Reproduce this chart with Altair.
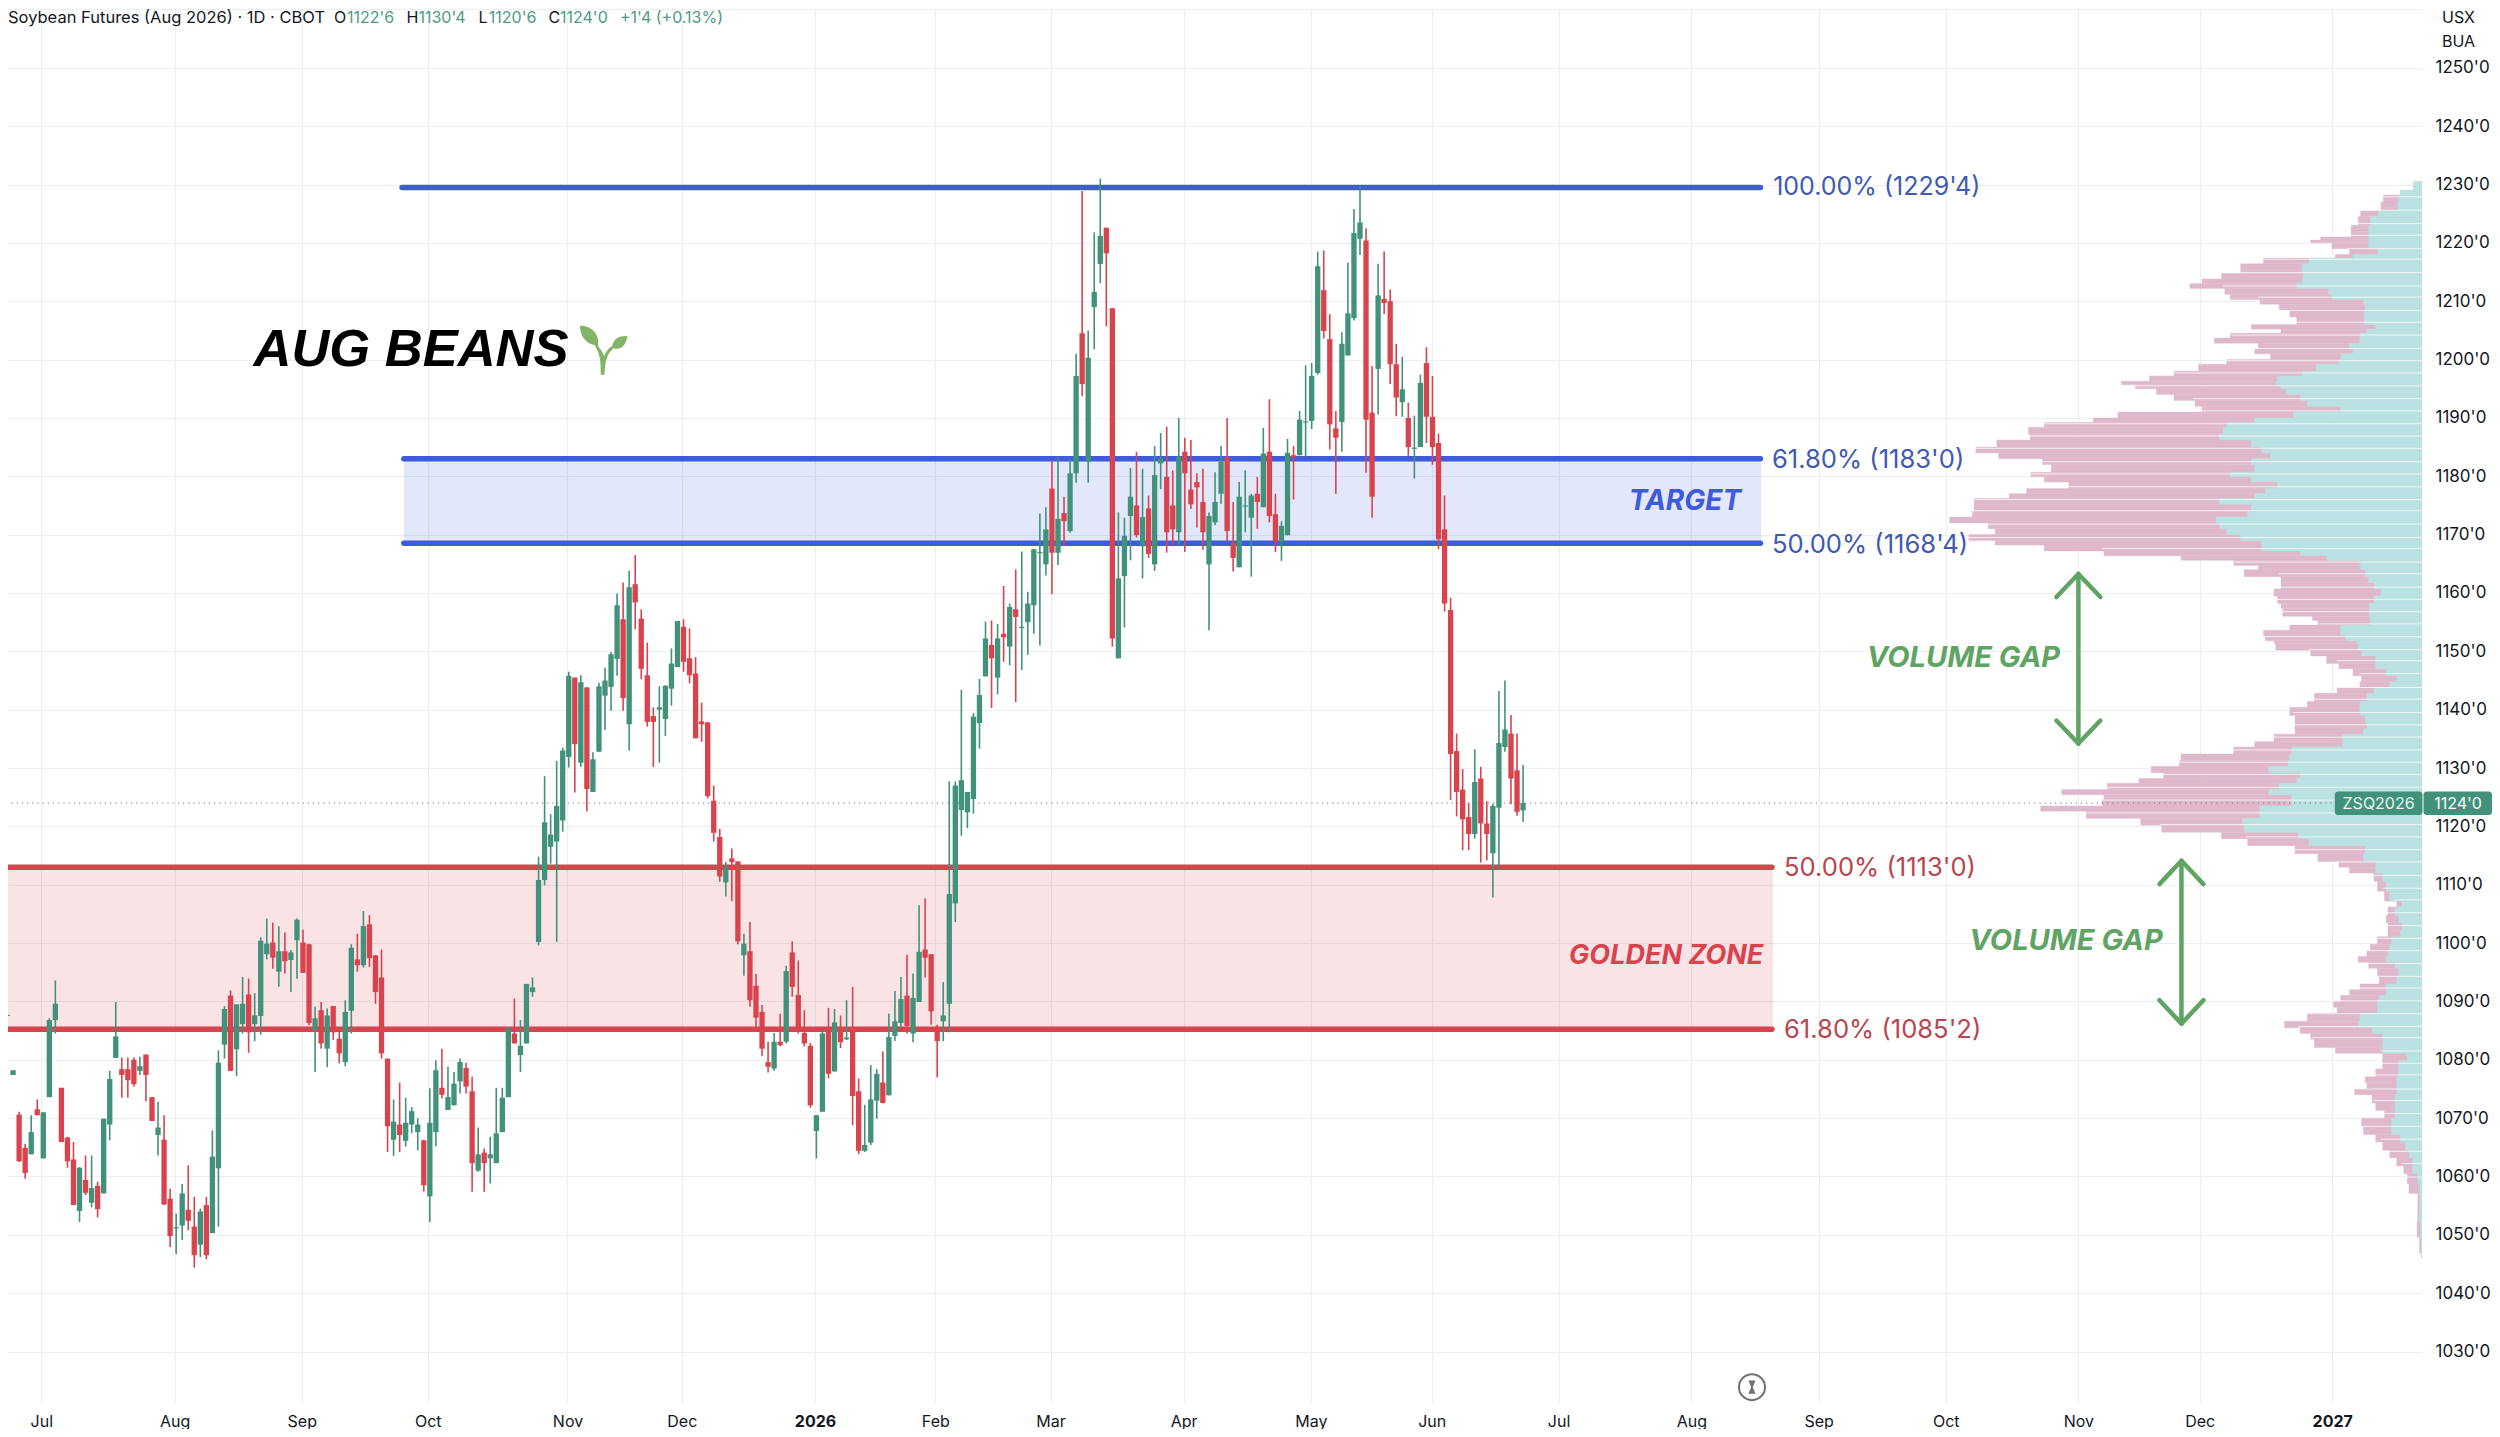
import altair as alt
import pandas as pd

# ---------- daily OHLC (cents/bushel) ----------
opens = [1106.5,1087.5,1077.4,1070.6,1064.9,1063.8,1071.5,1063.1,1073.6,1086.8,
1075.2,1066.7,1062.9,1054.1,1059.4,1055.5,1058.4,1057.1,1068.9,1080.3,
1078.4,1078.4,1080,1078.1,1080.9,1073.6,1067.1,1066.3,1056.2,1051.1,
1051.6,1054.3,1051.4,1048.3,1055.1,1050.3,1061.4,1082.6,1091,1081.8,
1086.1,1091.2,1086.1,1087.5,1098.1,1100.1,1095.1,1098.6,1097.1,1100.5,
1100.1,1099.8,1085.1,1088.5,1081.9,1089.2,1083.6,1079.6,1088.4,1097.2,
1096.2,1103.2,1097.9,1094.1,1080.2,1066.3,1068.9,1066.1,1068.9,1067.6,
1066.2,1056.6,1067.6,1075.2,1071.4,1072.2,1076.3,1078.6,1074.6,1061,
1064.1,1063.1,1062.3,1067.6,1073.6,1084.5,1080.8,1082.8,1091.6,1100.2,
1110.8,1116.5,1117.4,1121,1131.9,1145.5,1130.9,1143.8,1125.9,1132.8,
1142.4,1143.9,1148.7,1155.5,1137.5,1161.5,1155.6,1145.9,1138.9,1140,
1138.4,1143.6,1147.3,1154.2,1148.8,1146.2,1138,1137.8,1124.4,1118.2,
1110.4,1114.5,1114,1097.9,1098.6,1092.7,1088.2,1079.6,1078.5,1083.1,
1083.1,1098.4,1091.1,1084.6,1082.4,1067.8,1071.1,1084.9,1078,1085.6,
1083.5,1085,1074.6,1064.4,1065.8,1073,1076.1,1073.9,1084.1,1086.3,
1091,1084.5,1089.9,1098.9,1098.1,1085.6,1086.6,1089.6,1106.8,1122.8,
1122.4,1124.7,1137.7,1145.7,1151.1,1145.5,1153,1150.8,1157.2,1154,
1155,1157.9,1166.8,1164.9,1177.9,1166.9,1173.7,1170.6,1180.5,1204.5,
1182.5,1209,1216.4,1222.6,1208.8,1148.8,1162.9,1173.2,1175,1168,
1174.5,1164.9,1182.2,1179.9,1175,1170.4,1184.2,1177.7,1179,1175.6,
1164.9,1172.1,1177,1183.3,1168.6,1164.4,1174.8,1172.9,1177,1174.7,
1184.2,1173.5,1168.8,1169.9,1183.6,1183.6,1189.2,1189.5,1197.7,1211.9,
1203.5,1188.2,1189.3,1200.7,1207.1,1220.7,1220.4,1190.9,1198.4,1210.4,
1210,1199.2,1192.7,1190,1184.7,1185,1199.4,1190.2,1185.7,1170.9,
1157.1,1132.9,1126.3,1121.6,1118.7,1128.2,1120.5,1115.4,1123.2,1133.6,
1135.9,1129.6,1122.75]
highs = [1107,1087.75,1078.2,1071.1,1065.6,1070.5,1073.2,1071,1087.1,1093.6,
1075.2,1066.8,1065.9,1061.6,1063.6,1063.6,1059.1,1069.9,1078.1,1089.9,
1080.4,1080.4,1080.4,1080.5,1080.9,1073.6,1072.8,1070.5,1057.9,1053.6,
1058.7,1061.9,1056.5,1054.5,1056.5,1067.9,1081.6,1089.2,1091.9,1089.5,
1094.2,1093.9,1091.4,1101,1104.2,1103.5,1102.9,1101.8,1098.8,1104.2,
1102.3,1099.9,1089.1,1089.9,1088.8,1089.2,1085.6,1090.2,1099.8,1101.6,
1105.5,1104.8,1097.9,1098.9,1080.2,1073.2,1076.1,1073.5,1071.9,1070,
1066.3,1075.1,1079.9,1081.9,1078.8,1077.9,1080.2,1079.5,1077.1,1068.4,
1064.8,1066.8,1075.2,1075.2,1085.6,1090.5,1086.8,1093,1094.1,1114.8,
1128.6,1122.1,1131.2,1133.5,1146.5,1145.5,1145.9,1143.9,1132.7,1144.6,
1147.2,1149.9,1159.9,1161.8,1163.8,1166.5,1157.2,1151.5,1140.4,1144,
1144.2,1150.5,1155.2,1155.5,1153.9,1149,1141.2,1137.9,1127,1119.6,
1113.9,1116.2,1114,1101.6,1103.6,1094.7,1089.4,1083.1,1084.6,1087.9,
1096.1,1100.3,1097,1088.5,1082.9,1070.5,1085.1,1088.9,1088.7,1087.6,
1090.2,1092.5,1076.8,1072.3,1079.1,1078.4,1081.4,1087.9,1091.8,1094.2,
1098,1094.8,1106.5,1107.7,1098.1,1086,1093.3,1127.7,1127.7,1143.4,
1125.9,1139.4,1145.3,1155.1,1155.3,1154.7,1161.2,1158.2,1164,1167.1,
1160.2,1167.5,1173.6,1174.7,1182.7,1183.4,1176.5,1183,1201,1228.9,
1205,1221.8,1231,1222.6,1208.8,1173.8,1172.9,1181.4,1184.2,1181.3,
1176.7,1185.2,1187.4,1188.5,1181,1190,1186.6,1186.2,1180.5,1181.3,
1173.8,1180.7,1185.2,1190,1175.6,1179,1181,1177,1179.9,1188.3,
1193.2,1177,1172.3,1186.4,1185.2,1191.2,1199,1199.4,1218.5,1218.7,
1207.8,1191.2,1204.7,1216.6,1225.8,1229.5,1222.5,1198.9,1216.4,1218.5,
1212,1202.7,1200.5,1192.6,1190.4,1197.4,1202.1,1197.2,1187.3,1176.7,
1159.2,1135.9,1129.8,1124,1133.2,1130.2,1124.3,1123.9,1143.2,1145,
1139.1,1135.9,1130.5]
lows = [1099,1087.25,1077.4,1062.5,1059.6,1063.8,1070.5,1063.1,1073.6,1084.5,
1065.9,1061.5,1055.1,1052.2,1056.8,1054.7,1053,1057.1,1066.2,1080.3,
1073.5,1073.5,1075.4,1077.4,1072.9,1069.5,1063.6,1055.1,1047.9,1046.7,
1049.1,1050.8,1044.4,1046.2,1045.8,1050.3,1051.4,1080.2,1078.1,1077.2,
1084.5,1081.2,1083.2,1084.3,1097.2,1095.6,1092.5,1094.8,1091.6,1093.9,
1094.9,1085.9,1077.9,1081.9,1078.7,1083.4,1079.4,1078.9,1084.5,1095.1,
1095.8,1095.9,1089.6,1080.2,1064.2,1063.5,1064.2,1065.1,1067.4,1064.5,
1057.4,1052.2,1065.2,1073.4,1071.4,1072.2,1074.2,1074.2,1057.4,1060.8,
1057.4,1058.8,1062.3,1067.6,1073.6,1082.8,1077.9,1082.8,1090.8,1099.6,
1109.9,1113.6,1100.2,1119.1,1130.1,1125.8,1130.2,1122.6,1125.9,1132.8,
1136.5,1139.8,1145.8,1139.8,1133,1153.8,1145.2,1137.1,1130.2,1130.9,
1135.5,1140.7,1147.3,1146.5,1144.5,1135.1,1134.5,1124.8,1117.4,1110.5,
1108,1107.2,1099.8,1094.4,1089.1,1085.6,1080.6,1077.8,1078.1,1082.3,
1082.8,1090.8,1084.5,1082.3,1071.8,1063.1,1071.1,1076.8,1078,1082,
1083.4,1068.8,1063.8,1064.2,1065.4,1069.9,1072.5,1073.9,1083.2,1085.6,
1084.5,1083,1089.9,1094.1,1086,1077,1083.2,1084.7,1103.6,1118.4,
1119.7,1122.2,1133.3,1145.7,1140.3,1142.6,1148.2,1147.6,1141.3,1146.8,
1149.4,1153,1151,1163,1159.8,1164.8,1168,1170.3,1178.9,1193.7,
1178.9,1201.8,1213.1,1205.7,1150.8,1148.8,1154.1,1165.6,1169.5,1162.5,
1166,1163.8,1177.8,1166.9,1168,1168,1167,1174.4,1171.2,1167.4,
1153.6,1171.6,1175.3,1168.9,1163.7,1164.4,1170.4,1162.8,1171,1174.7,
1172.1,1167,1165.5,1169.9,1176,1183.6,1183.4,1188.1,1197.4,1203.6,
1184.6,1177,1184.2,1200.7,1206.7,1217.9,1180.6,1172.9,1190.6,1207.8,
1195.8,1190.3,1190.2,1183.5,1179.6,1185,1185.7,1182,1167.5,1156.8,
1124.5,1121.7,1115.9,1115.9,1117.9,1113.8,1114.2,1107.8,1112.8,1132.8,
1123.8,1121.8,1120.75]
closes = [1099.4,1087.7,1078.2,1062.6,1060.6,1067.6,1070.5,1071,1086.8,1089.6,
1065.9,1062.6,1055.1,1061.5,1057.2,1058,1054.4,1069.9,1076.7,1084,
1077.4,1076.5,1075.8,1078.9,1077.4,1069.5,1068.4,1055.2,1049.8,1051.3,
1057.1,1052.4,1046.5,1054,1046.5,1063.4,1079.5,1088.7,1078.1,1089.5,
1089.6,1084.7,1087.6,1100.4,1099.9,1097.5,1098.6,1096.9,1098.4,1104,
1094.9,1086.3,1087.1,1082.8,1087.6,1084.7,1081.1,1088.2,1099.2,1096.2,
1102.9,1097.4,1091.6,1081.1,1068.6,1069.4,1067.1,1069.2,1071.2,1068.9,
1058.5,1069.2,1078.2,1074,1073.6,1075.9,1079.6,1075.4,1062.3,1063.8,
1062.3,1063.8,1067.4,1073.5,1085.4,1082.8,1082.4,1093,1092.4,1110.8,
1120.7,1118.6,1123.5,1133,1145.8,1134.1,1144.7,1126.4,1131.5,1144,
1145,1149.5,1157.9,1142,1161,1158.4,1147,1137.9,1137.9,1140.4,
1144.1,1147.9,1155.2,1148.2,1145.9,1135.1,1137.5,1125.2,1118.9,1111.4,
1113.1,1113.9,1100.3,1099.9,1090.2,1087.2,1081.9,1078.8,1083.1,1082.5,
1095.2,1092.5,1085.1,1082.8,1072.2,1070.5,1084.5,1077.6,1086.4,1083,
1083.8,1073.8,1064.4,1065.4,1073.2,1077.6,1072.6,1083.9,1086.6,1090.4,
1085.8,1090.6,1098.5,1097.5,1088.3,1083.2,1087.6,1108.4,1127,1127.9,
1125.9,1138.8,1142.5,1152.2,1148.8,1152.2,1152.4,1157.6,1155.9,1154.2,
1158.2,1167.5,1167,1170.9,1166.9,1172.7,1172.3,1180.5,1197.2,1195.8,
1200.3,1211.6,1221.2,1218.2,1152.2,1162.5,1169.8,1176.5,1169.9,1173,
1166.7,1180.2,1183,1170.4,1170.9,1183.4,1180.5,1175.2,1178.1,1170.4,
1173.2,1175.6,1182.5,1170.6,1166,1176.5,1175,1176.7,1175.6,1183.9,
1173.2,1168.8,1171.5,1184,1183.3,1189.7,1189.4,1197.2,1216,1204.9,
1188.9,1186.6,1202.7,1207.9,1221.7,1223.5,1189.7,1176.5,1211,1209.7,
1199.2,1193.5,1194.9,1185,1184.9,1196,1190.2,1185,1169.2,1158.2,
1132.4,1125.9,1121.2,1118.7,1127.6,1120.5,1118.7,1123.5,1134.3,1136.6,
1128.2,1122.5,1124]

# ---------- volume profile (price row, total, up volume in relative units) ----------
vp_price = [1230.5,1229,1228.2,1227,1226,1225.5,1224.5,1223,1222,1221,1220.5,1220,1219,1218,1217.4,1216.4,1215.2,1214.8,1213.8,1213,
1212.2,1211.2,1210.3,1209.5,1208.5,1207.3,1206,1205.2,1204.5,1203.7,1202.8,1201.8,1201,1200,1199.2,1198,1197.2,1196.3,1195.7,1195,
1194,1193,1192,1191,1190,1189.2,1188.4,1187.2,1186.2,1185,1184,1183,1182,1180.7,1179.9,1179,1177.9,1177,1176.2,1175.2,
1174,1173,1172,1171,1170,1169,1168.2,1167.2,1166.4,1165.6,1164.7,1164,1162.8,1161.8,1160.7,1159.5,1158.2,1157.4,1156,1155.3,
1154.5,1153.6,1152.7,1151.8,1151.3,1150.2,1149.2,1147.9,1147,1145.8,1144.8,1143.8,1142.8,1141.4,1140.4,1139,1137.7,1136.7,1135.8,1134.5,
1133.6,1132.4,1131.3,1130.3,1129.2,1128.2,1127.4,1126.3,1125.4,1124.5,1123.5,1122.6,1121.4,1120.2,1119,1117.9,1116.7,1115.3,1114,1113,
1112,1110.6,1108.9,1107.2,1106.2,1104.8,1103.5,1102.1,1101.1,1099.8,1098.7,1097.7,1096.7,1095.7,1094.3,1093,1092,1091,1090,1089,
1088,1086.6,1085.5,1084.5,1083.5,1082.1,1081.1,1079.8,1078.4,1077.1,1076.1,1075,1074,1072.6,1071.3,1070,1068.6,1067.2,1065.9,1064.5,
1063.2,1061.8,1060.5,1058.8,1057.1,1055,1052.3,1049.6,1046.9]
vp_total = [24,62,110,117,117,175,182,202,202,289,317,257,207,247,452,517,517,572,627,662,
562,547,462,407,377,357,487,402,547,592,467,477,432,557,637,707,777,857,817,757,
707,647,627,867,937,1077,1122,1117,1212,1272,1207,1082,1057,1115,1077,1007,1127,1177,1277,1277,
1282,1347,1237,1217,1292,1217,1077,907,687,537,467,507,402,402,422,412,402,397,312,297,
377,452,447,422,417,317,272,237,197,172,177,242,307,327,377,362,362,362,422,477,
537,687,692,772,737,807,897,1027,907,912,1087,957,802,742,572,497,362,297,237,207,
137,127,107,72,97,102,97,97,127,147,157,182,152,127,122,177,207,232,252,242,
327,392,347,317,307,247,112,112,132,162,157,192,142,132,107,172,167,132,112,92,
72,52,42,37,12,12,14,7,2]
vp_up = [24,62,67,69,69,125,147,152,152,152,152,152,125,197,322,342,342,339,342,357,
267,257,167,162,165,165,132,157,177,177,207,197,232,237,302,342,412,417,402,387,
347,327,232,367,477,557,567,577,487,457,432,487,477,547,487,412,447,477,577,487,
497,587,577,557,517,457,457,347,272,177,175,162,152,137,117,137,150,150,147,147,
232,232,217,187,182,172,132,132,102,72,92,137,157,177,177,162,157,167,227,227,
372,377,382,437,347,357,407,437,372,372,462,462,512,507,352,322,162,167,132,132,
112,102,92,57,77,67,57,62,87,92,97,102,77,67,72,102,102,122,127,127,
177,182,142,112,112,112,42,67,67,72,72,72,77,77,77,87,87,62,47,37,
27,27,12,7,7,7,5,2,1]
vp_breaks = [1227.9,1225.6,1223.3,1221.3,1219,1217.2,1214.9,1212.6,1210.7,1208.4,1206.4,1204.2,1201.9,1199.8,1197.7,1195.5,1193.3,1191.2,1189,1186.9,
1184.8,1182.5,1180.4,1178.2,1176,1174.1,1171.8,1169.5,1167.6,1165.3,1163.3,1161,1158.9,1156.8,1154.7,1152.5,1150.3,1148.4,1146.2,1143.8,
1141.8,1139.5,1137.4,1135.3,1133.1,1131,1128.9,1126.7,1124.5,1122.3,1120.3,1118.2,1116,1113.9,1111.6,1109.4,1107.4,1105.2,1103,1100.8,
1098.7,1096.5,1094.3,1092.3,1090.1,1087.9,1085.7,1083.8,1081.5,1079.4,1077.4,1075,1073,1070.8,1068.6,1066.4,1064.3,1062.2,1059.9]

# ---------- axes ----------
month_pos = [6.67,28.76,49.79,70.65,93.79,112.72,134.77,154.69,173.76,195.81,216.85,236.87,257.87,279.85,300.94,321.97,343.94,364.02,385.97]
month_lab = ["Jul","Aug","Sep","Oct","Nov","Dec","2026","Feb","Mar","Apr","May","Jun","Jul","Aug","Sep","Oct","Nov","Dec","2027"]
price_ticks = list(range(1030, 1261, 10))

# ---------- levels ----------
fib_blue = [1229.5, 1183.0, 1168.5]
fib_red = [1113.0, 1085.25]
last_price = 1124.0

FONT = "Inter"
BLUE, RED, GREEN, ANN = "#3d5bdc", "#d9434e", "#41917b", "#5fa463"
INK = "#131722"

XD = [1.159, 400.83]
YD = [1021.18, 1260.25]
sx = alt.Scale(domain=XD, nice=False, zero=False)
sy = alt.Scale(domain=YD, nice=False, zero=False)
W, H = 2414, 1395

def X(f, **k): return alt.X(f, scale=sx, axis=None, title=None, **k)
def Y(f, **k): return alt.Y(f, scale=sy, axis=None, title=None, **k)

df = pd.DataFrame({"i": range(len(opens)), "o": opens, "h": highs, "l": lows, "c": closes})
df["col"] = [GREEN if c >= o else RED for o, c in zip(opens, closes)]
df["xl"] = df.i - 0.44
df["xr"] = df.i + 0.44

k = 1 / 2.851 / 6.04
vp = pd.DataFrame({"p": vp_price, "t": vp_total, "u": vp_up})
vp["p2"] = vp_price[1:] + [1046.0]
vp["xt"] = XD[1] - vp.t * k
vp["xu"] = XD[1] - vp.u * k
vp["xr"] = XD[1]

brk = pd.DataFrame({"p": vp_breaks})
brk["xl"] = [XD[1] - k * (vp.t.iloc[(vp.p - b).abs().argmin()] + 6) for b in vp_breaks]
brk["xr"] = XD[1]

base = alt.Chart(pd.DataFrame({"x": [XD[0], XD[1]], "y": [YD[0], YD[1]]})).mark_point(opacity=0).encode(
    x=alt.X("x:Q", scale=sx, title=None, axis=alt.Axis(
        values=month_pos, grid=True, gridColor="#eceef2", gridWidth=1.2, domain=False, ticks=False,
        labelExpr="%s[indexof(%s, datum.value)]" % (month_lab, month_pos),
        labelFont=FONT, labelFontSize=16, labelColor=INK, labelPadding=10, labelFlush=False,
        labelOverlap=False, orient="bottom",
        labelFontWeight={"condition": {"test": "datum.value == 134.77 || datum.value == 385.97", "value": "bold"}, "value": "normal"})),
    y=alt.Y("y:Q", scale=sy, title=None, axis=alt.Axis(
        values=price_ticks, grid=True, gridColor="#eceef2", gridWidth=1.2, domain=False, ticks=False,
        labelExpr="datum.value > 1255 ? '' : format(datum.value,'d') + \"'0\"", orient="right",
        labelFont=FONT, labelFontSize=17, labelColor=INK, labelPadding=13, labelOverlap=False, labelFlush=False)),
)

band = pd.DataFrame({"x": [66.7, 0], "x2": [291.4, 293.4], "y": [1183.0, 1113.0], "y2": [1168.5, 1085.25],
                     "col": ["#3d5bdc", "#d9434e"]})
bands = alt.Chart(band).mark_rect(opacity=0.15).encode(
    x=X("x:Q"), x2="x2:Q", y=Y("y:Q"), y2="y2:Q", color=alt.Color("col:N", scale=None))

lines = pd.DataFrame({
    "x": [66.4, 66.7, 66.7, 0, 0], "x2": [291.3, 291.3, 291.3, 293.2, 293.2],
    "y": fib_blue + fib_red, "col": [BLUE] * 3 + [RED] * 2})
fibs = alt.Chart(lines).mark_rule(strokeWidth=5.5, strokeCap="round", clip=True).encode(
    x=X("x:Q"), x2="x2:Q", y=Y("y:Q"), color=alt.Color("col:N", scale=None))

pink = alt.Chart(vp).mark_rect(color="#dfb8cb", stroke="#dfb8cb", strokeWidth=0.4, clip=True).encode(x=X("xt:Q"), x2="xr:Q", y=Y("p:Q"), y2="p2:Q")
teal = alt.Chart(vp).mark_rect(color="#bae2e3", stroke="#bae2e3", strokeWidth=0.4, clip=True).encode(x=X("xu:Q"), x2="xr:Q", y=Y("p:Q"), y2="p2:Q")
seps = alt.Chart(brk).mark_rule(color="white", strokeWidth=0.9, opacity=0.85, clip=True).encode(x=X("xl:Q"), x2="xr:Q", y=Y("p:Q"))

dotted = alt.Chart(pd.DataFrame({"x": [0.0], "x2": [386.4], "y": [last_price]})).mark_rule(
    color="#70747c", strokeWidth=1, strokeDash=[1.2, 4], clip=True).encode(x=X("x:Q"), x2="x2:Q", y=Y("y:Q"))

wicks = alt.Chart(df).mark_rule(strokeWidth=1.6, clip=True).encode(
    x=X("i:Q"), y=Y("h:Q"), y2="l:Q", color=alt.Color("col:N", scale=None))
bodies = alt.Chart(df).mark_rect(clip=True).encode(
    x=X("xl:Q"), x2="xr:Q", y=Y("o:Q"), y2="c:Q", color=alt.Color("col:N", scale=None))

def ann(text, x, y, color, size, align="left", weight="normal", italic=False, font=FONT):
    d = pd.DataFrame({"x": [x], "y": [y], "t": [text]})
    return alt.Chart(d).mark_text(align=align, baseline="middle", color=color, fontSize=size, font=font,
                                  fontWeight=weight, fontStyle="italic" if italic else "normal").encode(
        x=X("x:Q"), y=Y("y:Q"), text="t:N")

BT, RT = "#4059b4", "#b9454f"
labels = [
    ann("100.00% (1229'4)", 293.4, 1229.5, BT, 25),
    ann("61.80% (1183'0)", 293.2, 1182.8, BT, 25.6),
    ann("50.00% (1168'4)", 293.2, 1168.3, BT, 25.6),
    ann("50.00% (1113'0)", 295.2, 1112.8, RT, 25.6),
    ann("61.80% (1085'2)", 295.2, 1085.1, RT, 25.6),
    ann("TARGET", 278.8, 1175.6, BLUE, 28, "center", "bold", True),
    ann("GOLDEN ZONE", 275.7, 1097.8, RED, 27, "center", "bold", True),
    ann("VOLUME GAP", 324.9, 1148.8, ANN, 29, "center", "bold", True),
    ann("VOLUME GAP", 341.9, 1100.3, ANN, 29, "center", "bold", True),
    ann("AUG BEANS", 41.8, 1201.6, "#000000", 52.5, "left", "bold", True, "Liberation Sans"),
]

arrow = pd.DataFrame({
    "x":  [343.94, 343.94, 343.94, 343.94, 343.94, 361.0, 361.0, 361.0, 361.0, 361.0],
    "x2": [343.94, 340.3, 347.58, 340.3, 347.58, 361.0, 357.36, 364.64, 357.36, 364.64],
    "y":  [1163.25, 1163.25, 1163.25, 1134.2, 1134.2, 1114.1, 1114.1, 1114.1, 1086.2, 1086.2],
    "y2": [1134.2, 1159.3, 1159.3, 1138.14, 1138.14, 1086.2, 1110.1, 1110.1, 1090.2, 1090.2]})
arrows = alt.Chart(arrow).mark_rule(color=ANN, strokeWidth=4.5, strokeCap="round").encode(
    x=X("x:Q"), x2="x2:Q", y=Y("y:Q"), y2="y2:Q")

sprout_path = ("M0.05,1 L-0.1,1 C-0.1,0.5 -0.1,0.2 -0.35,-0.2 L-0.25,-0.25 C-0.1,0 0,0.1 0.05,0.25 "
               "C0.1,0.05 0.25,-0.1 0.35,-0.15 L0.4,-0.05 C0.2,0.1 0.08,0.35 0.05,1 Z "
               "M-0.35,-0.2 C-0.8,-0.3 -0.95,-0.7 -0.95,-1 C-0.5,-1 -0.15,-0.7 -0.2,-0.2 Z "
               "M0.35,-0.1 C0.4,-0.5 0.7,-0.6 0.98,-0.58 C0.95,-0.2 0.7,0.05 0.35,-0.1 Z")
sprout = alt.Chart(pd.DataFrame({"x": [99.7], "y": [1201.6]})).mark_point(
    shape=sprout_path, size=2400, filled=True, color="#84b468", opacity=1, strokeWidth=0).encode(x=X("x:Q"), y=Y("y:Q"))

clock_pt = pd.DataFrame({"x": [289.9], "y": [1023.9]})
clock = alt.Chart(clock_pt).mark_point(shape="circle", size=676, filled=False, color="#6f7175", opacity=1, strokeWidth=2).encode(
    x=X("x:Q"), y=Y("y:Q"))
hour = alt.Chart(clock_pt).mark_point(shape="M-0.55,-1H0.55L0.12,0L0.55,1H-0.55L-0.12,0Z", size=170, filled=True,
                                      color="#6f7175", opacity=1, strokeWidth=0).encode(x=X("x:Q"), y=Y("y:Q"))

def box(x, x2, y, y2, color, **kw):
    return alt.Chart(pd.DataFrame({"a": [0]})).mark_rect(color=color, **kw).encode(
        x=alt.value(x), x2=alt.value(x2), y=alt.value(y), y2=alt.value(y2))

def chrome(text, x, y, color, size=16, align="left", weight="normal", baseline="top"):
    return alt.Chart(pd.DataFrame({"t": [text]})).mark_text(
        align=align, baseline=baseline, color=color, fontSize=size, font=FONT, fontWeight=weight).encode(
        x=alt.value(x), y=alt.value(y), text="t:N")

TL = "#4f9a85"
header = [
    chrome("Soybean Futures (Aug 2026) · 1D · CBOT", 0, 2, INK, 16.5),
    chrome("O", 326, 2, INK, 16), chrome("1122'6", 339, 2, TL, 16),
    chrome("H", 398.6, 2, INK, 16), chrome("1130'4", 410.4, 2, TL, 16),
    chrome("L", 470.6, 2, INK, 16), chrome("1120'6", 480.8, 2, TL, 16),
    chrome("C", 540.5, 2, INK, 16), chrome("1124'0", 552, 2, TL, 16),
    chrome("+1'4 (+0.13%)", 612, 2, TL, 16),
]
top_box = [box(2420, 2484, 0, 52, "white", cornerRadius=6),
           chrome("USX", 2434, 2, INK, 16), chrome("BUA", 2434, 26, INK, 16)]
tag = [
    box(2326.8, 2414.5, 783.4, 807, GREEN, cornerRadius=3),
    box(2415.5, 2484, 783.4, 807, GREEN, cornerRadius=3),
    chrome("ZSQ2026", 2370.6, 795.5, "#e9f5f1", 16, "center", baseline="middle"),
    chrome("1124'0", 2450, 795.5, "white", 16, "center", baseline="middle"),
]

chart = alt.layer(
    base, bands, fibs, pink, teal, seps, dotted, wicks, bodies, arrows, sprout, clock, hour,
    *labels, *header, *top_box, *tag
).resolve_axis(x="independent", y="independent").properties(
    width=W, height=H,
    autosize=alt.AutoSizeParams(type="none"),
    padding={"left": 0, "top": 0, "right": 70, "bottom": 26},
    background="white",
).configure_view(stroke=None)

chart.save("out.html", embed_options={"renderer": "svg", "actions": False})
